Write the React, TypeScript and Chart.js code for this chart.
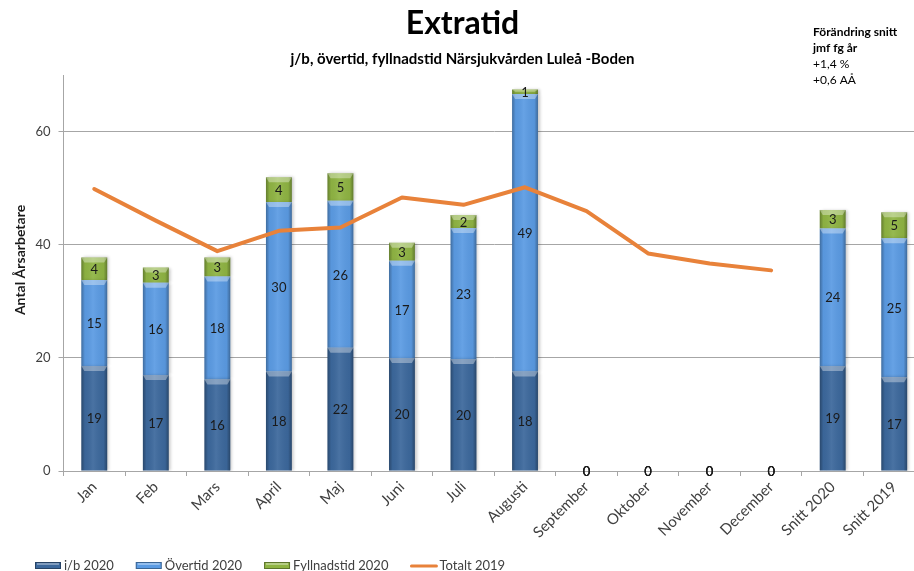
import React, { useEffect, useRef } from "react";
import { Chart, registerables } from "chart.js";

Chart.register(...registerables);

// ---- data ----
const categories = [
  "Jan", "Feb", "Mars", "April", "Maj", "Juni", "Juli", "Augusti",
  "September", "Oktober", "November", "December", "Snitt 2020", "Snitt 2019",
];
const ib2020 = [18.6, 17.0, 16.2, 17.6, 21.8, 20.0, 19.8, 17.6, 0, 0, 0, 0, 18.6, 16.6];
const overtid2020 = [15.2, 16.3, 18.2, 30.0, 26.0, 17.2, 23.2, 49.1, 0, 0, 0, 0, 24.3, 24.6];
const fyllnad2020 = [4.0, 2.7, 3.4, 4.4, 4.9, 3.2, 2.3, 0.8, 0, 0, 0, 0, 3.3, 4.6];
const totalt2019: (number | null)[] = [49.9, 44.3, 38.9, 42.5, 43.1, 48.4, 47.1, 50.2, 46.0, 38.5, 36.7, 35.5, null, null];
const yTicks = [0, 20, 40, 60];
const noteLines = ["Förändring snitt", "jmf fg år", "+1,4 %", "+0,6 AÅ"];

const FONT = "Lato, 'Open Sans', sans-serif";
const COLORS = {
  ib: "#3C689C",
  overtid: "#5B9BE3",
  fyllnad: "#8FB443",
  totalt: "#E8823A",
  grid: "#a6a6a6",
  text: "#404040",
};

// Excel-like bevel on each bar segment, drawn right after its dataset
const bevelPlugin = {
  id: "bevel",
  beforeDatasetDraw(chart: any, args: any) {
    if (args.meta.type !== "bar") return;
    const ctx = chart.ctx;
    ctx.save();
    ctx.shadowColor = "rgba(0,0,0,0.22)";
    ctx.shadowBlur = 3;
    ctx.shadowOffsetX = 2;
    ctx.shadowOffsetY = 0;
  },
  afterDatasetDraw(chart: any, args: any) {
    if (args.meta.type !== "bar") return;
    const ctx = chart.ctx;
    ctx.restore();
    ctx.save();
    args.meta.data.forEach((el: any) => {
      const { x, y, base, width } = el.getProps(["x", "y", "base", "width"], true);
      const top = Math.min(y, base);
      const h = Math.abs(base - y);
      if (!(h > 0.5)) return;
      const left = x - width / 2;
      const right = x + width / 2;
      const g = ctx.createLinearGradient(left, 0, right, 0);
      g.addColorStop(0, "rgba(0,0,0,0.30)");
      g.addColorStop(0.14, "rgba(0,0,0,0.03)");
      g.addColorStop(0.45, "rgba(255,255,255,0.07)");
      g.addColorStop(0.86, "rgba(0,0,0,0.04)");
      g.addColorStop(1, "rgba(0,0,0,0.32)");
      ctx.fillStyle = g;
      ctx.fillRect(left, top, width, h);
      const bh = Math.min(5, h / 2);
      ctx.beginPath();
      ctx.moveTo(left, top);
      ctx.lineTo(right, top);
      ctx.lineTo(right - 3, top + bh);
      ctx.lineTo(left + 3, top + bh);
      ctx.closePath();
      ctx.fillStyle = "rgba(255,255,255,0.35)";
      ctx.fill();
    });
    ctx.restore();
  },
};

// Value labels centred in every stacked segment
const labelPlugin = {
  id: "segmentLabels",
  afterDatasetsDraw(chart: any) {
    const ctx = chart.ctx;
    ctx.save();
    ctx.font = `13px ${FONT}`;
    ctx.fillStyle = "#1a1a1a";
    ctx.textAlign = "center";
    ctx.textBaseline = "middle";
    chart.data.datasets.forEach((ds: any, di: number) => {
      const meta = chart.getDatasetMeta(di);
      if (meta.type !== "bar") return;
      meta.data.forEach((el: any, i: number) => {
        const v = ds.data[i];
        if (v == null) return;
        const { x, y, base } = el.getProps(["x", "y", "base"], true);
        ctx.fillText(String(Math.round(v)), x, (y + base) / 2 + 1);
      });
    });
    ctx.restore();
  },
};

// Axis title, side note and legend
const decorPlugin = {
  id: "decor",
  afterDraw(chart: any) {
    const ctx = chart.ctx;
    ctx.save();

    // y-axis title
    ctx.save();
    ctx.translate(20, 260);
    ctx.rotate(-Math.PI / 2);
    ctx.font = `bold 14px ${FONT}`;
    ctx.fillStyle = "#1a1a1a";
    ctx.textAlign = "center";
    ctx.textBaseline = "middle";
    ctx.fillText("Antal Årsarbetare", 0, 0);
    ctx.restore();

    // note, top right
    ctx.fillStyle = "#000";
    ctx.textAlign = "left";
    ctx.textBaseline = "middle";
    noteLines.forEach((line, i) => {
      ctx.font = `${i < 2 ? "bold " : ""}12px ${FONT}`;
      ctx.fillText(line, 813, 32 + i * 16);
    });

    // legend
    const ly = 566;
    let lx = 35;
    ctx.font = `13px ${FONT}`;
    chart.data.datasets.forEach((ds: any) => {
      const color = ds.type === "line" ? ds.borderColor : ds.backgroundColor;
      if (ds.type === "line") {
        ctx.strokeStyle = color;
        ctx.lineWidth = 3;
        ctx.lineCap = "round";
        ctx.beginPath();
        ctx.moveTo(lx + 1, ly);
        ctx.lineTo(lx + 26, ly);
        ctx.stroke();
      } else {
        ctx.fillStyle = color;
        ctx.fillRect(lx, ly - 4, 26, 7);
        ctx.fillStyle = "rgba(255,255,255,0.35)";
        ctx.fillRect(lx + 2, ly - 3, 22, 2);
        ctx.strokeStyle = "rgba(0,0,0,0.35)";
        ctx.lineWidth = 1;
        ctx.strokeRect(lx + 0.5, ly - 3.5, 25, 6);
      }
      ctx.fillStyle = COLORS.text;
      ctx.textAlign = "left";
      ctx.fillText(ds.label, lx + 29, ly);
      lx += 29 + ctx.measureText(ds.label).width + 22;
    });

    ctx.restore();
  },
};

export default function App() {
  const canvasRef = useRef<HTMLCanvasElement | null>(null);

  useEffect(() => {
    const canvas = canvasRef.current;
    if (!canvas) return;
    const chart = new Chart(canvas, {
      type: "bar",
      data: {
        labels: categories,
        datasets: [
          {
            type: "bar",
            label: "i/b 2020",
            data: ib2020,
            backgroundColor: COLORS.ib,
            order: 1,
          },
          {
            type: "bar",
            label: "Övertid 2020",
            data: overtid2020,
            backgroundColor: COLORS.overtid,
            order: 1,
          },
          {
            type: "bar",
            label: "Fyllnadstid 2020",
            data: fyllnad2020,
            backgroundColor: COLORS.fyllnad,
            order: 1,
          },
          {
            type: "line",
            label: "Totalt 2019",
            data: totalt2019,
            borderColor: COLORS.totalt,
            backgroundColor: COLORS.totalt,
            borderWidth: 4,
            pointRadius: 0,
            pointHoverRadius: 0,
            tension: 0,
            borderCapStyle: "round",
            borderJoinStyle: "round",
            spanGaps: false,
            order: 0,
          },
        ] as any,
      },
      options: {
        responsive: false,
        devicePixelRatio: 1,
        animation: false,
        events: [],
        layout: { padding: { left: 0, right: 15, top: 0, bottom: 0 } },
        datasets: {
          bar: { barPercentage: 0.42, categoryPercentage: 1.0 },
        },
        plugins: {
          legend: { display: false },
          tooltip: { enabled: false },
          title: {
            display: true,
            text: "Extratid",
            color: "#000",
            font: { family: FONT, size: 32, weight: "bold", lineHeight: 1.2 },
            padding: { top: 4, bottom: 0 },
          },
          subtitle: {
            display: true,
            text: "j/b, övertid, fyllnadstid Närsjukvården Luleå -Boden",
            color: "#000",
            font: { family: FONT, size: 15, weight: "bold", lineHeight: 1.2 },
            padding: { top: 8, bottom: 7 },
          },
        },
        scales: {
          x: {
            stacked: true,
            grid: {
              offset: true,
              drawOnChartArea: false,
              tickLength: 5,
              color: COLORS.grid,
            },
            border: { color: COLORS.grid },
            ticks: {
              autoSkip: false,
              minRotation: 45,
              maxRotation: 45,
              padding: 2,
              color: COLORS.text,
              font: { family: FONT, size: 15 },
            },
            afterFit: (s: any) => {
              s.height = 100;
            },
          },
          y: {
            stacked: true,
            min: 0,
            max: 70,
            ticks: {
              stepSize: 20,
              padding: 8,
              color: COLORS.text,
              font: { family: FONT, size: 13 },
            },
            grid: { color: COLORS.grid, tickLength: 5 },
            border: { color: COLORS.grid },
            afterBuildTicks: (s: any) => {
              s.ticks = yTicks.map((v) => ({ value: v }));
            },
            afterFit: (s: any) => {
              s.width = 63.5;
            },
          },
        },
      } as any,
      plugins: [bevelPlugin, labelPlugin, decorPlugin],
    });
    return () => chart.destroy();
  }, []);

  return (
    <div
      style={{
        position: "fixed",
        left: 0,
        top: 0,
        width: 914,
        height: 571,
        overflow: "hidden",
        background: "#fff",
      }}
    >
      <canvas ref={canvasRef} width={940} height={571} style={{ display: "block" }} />
    </div>
  );
}
